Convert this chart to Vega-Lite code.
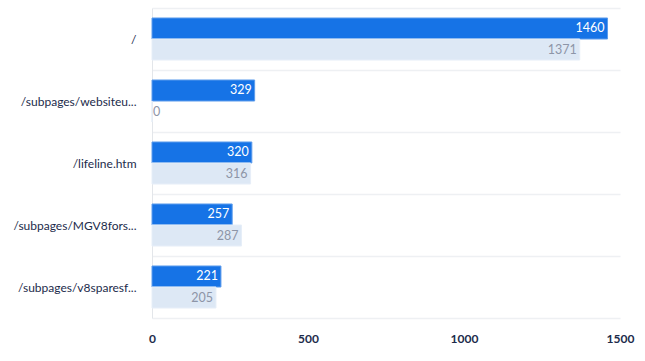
{
  "$schema": "https://vega.github.io/schema/vega-lite/v6.json",
  "width": 468,
  "height": 310,
  "autosize": {"type": "none"},
  "padding": {"left": 152, "top": 8, "right": 25, "bottom": 43},
  "background": "white",
  "config": {"view": {"stroke": null}, "font": "Lato"},
  "data": {
    "values": [
      {"page": "/", "period": "current", "value": 1460},
      {"page": "/", "period": "previous", "value": 1371},
      {"page": "/subpages/websiteu...", "period": "current", "value": 329},
      {"page": "/subpages/websiteu...", "period": "previous", "value": 0},
      {"page": "/lifeline.htm", "period": "current", "value": 320},
      {"page": "/lifeline.htm", "period": "previous", "value": 316},
      {"page": "/subpages/MGV8fors...", "period": "current", "value": 257},
      {"page": "/subpages/MGV8fors...", "period": "previous", "value": 287},
      {"page": "/subpages/v8sparesf...", "period": "current", "value": 221},
      {"page": "/subpages/v8sparesf...", "period": "previous", "value": 205}
    ]
  },
  "encoding": {
    "y": {
      "field": "page", "type": "nominal", "sort": null, "title": null,
      "scale": {"paddingInner": 0, "paddingOuter": 0},
      "axis": {
        "tickBand": "extent", "grid": true, "gridColor": "#eef0f3", "gridWidth": 1.5,
        "ticks": false, "domain": true, "domainColor": "#e3e6ea",
        "labelPadding": 16, "labelFontSize": 12, "labelColor": "#1c2b4b"
      }
    },
    "yOffset": {"field": "period", "sort": ["current", "previous"], "scale": {"paddingInner": 0, "paddingOuter": 0.476}},
    "x": {
      "field": "value", "type": "quantitative", "title": null,
      "scale": {"domain": [0, 1500], "nice": false},
      "axis": {
        "values": [0, 500, 1000, 1500], "format": "d", "grid": false, "ticks": false, "domain": false,
        "labelPadding": 15, "labelFontSize": 12, "labelFontWeight": "bold", "labelColor": "#1c2b4b",
        "labelFlush": false
      }
    }
  },
  "layer": [
    {
      "mark": {"type": "bar", "strokeWidth": 1},
      "encoding": {
        "color": {"field": "period", "scale": {"domain": ["current", "previous"], "range": ["#1673e6", "#dde8f5"]}, "legend": null},
        "stroke": {"field": "period", "scale": {"domain": ["current", "previous"], "range": ["#5d9cec", "#e6eef8"]}, "legend": null}
      }
    },
    {
      "transform": [{"filter": "datum.value > 0"}],
      "mark": {"type": "text", "align": "right", "dx": -3, "fontSize": 12.5, "baseline": "middle"},
      "encoding": {
        "text": {"field": "value", "type": "quantitative", "format": "d"},
        "color": {"condition": {"test": "datum.period === 'current'", "value": "#ffffff"}, "value": "#8d95a7"}
      }
    },
    {
      "transform": [{"filter": "datum.value == 0"}],
      "mark": {"type": "text", "align": "left", "dx": 1, "fontSize": 12.5, "baseline": "middle"},
      "encoding": {
        "text": {"field": "value", "type": "quantitative", "format": "d"},
        "color": {"value": "#8d95a7"}
      }
    }
  ]
}
